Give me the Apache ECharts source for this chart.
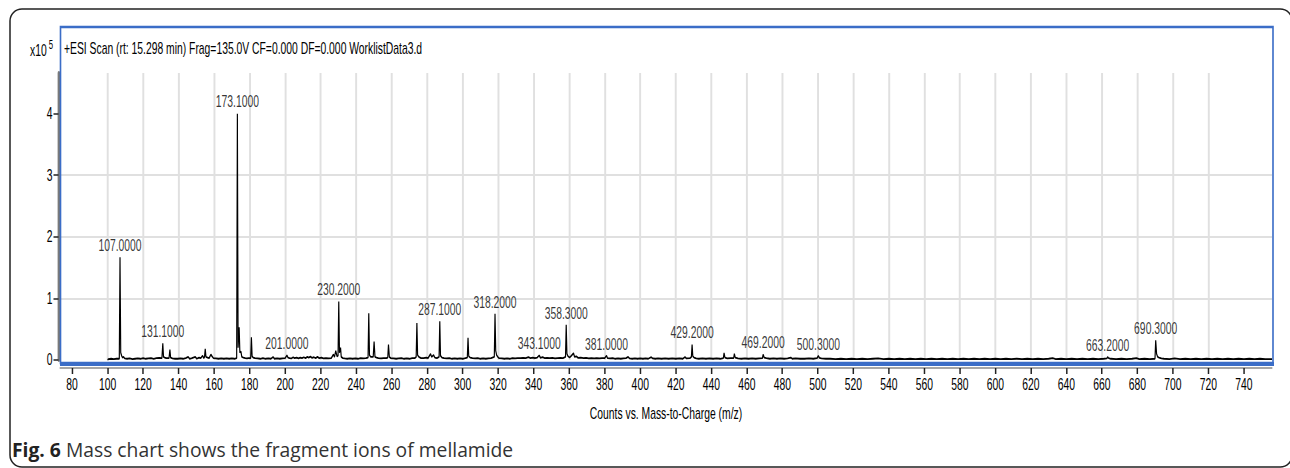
<!DOCTYPE html>
<html>
<head>
<meta charset="utf-8">
<script src="https://cdn.jsdelivr.net/npm/echarts@6/dist/echarts.min.js"></script>
<style>
  html, body { margin: 0; padding: 0; background: #fff; overflow: hidden; }
  #frame { width: 1290px; height: 468px; overflow: hidden; position: relative; }
  /* the instrument export is a horizontally condensed plot, so the chart is
     laid out on a wider canvas and squeezed to the page width */
  #chart { width: 1994px; height: 468px; transform: scaleX(0.64694); transform-origin: 0 0; }
</style>
</head>
<body>
<div id="frame"><div id="chart"></div></div>
<script>
// Profile spectrum, [m/z, counts in units of 10^5], split by m/z region
const profile100to200 = [
  [100, 0.0], [100.5, 0.015], [102, 0.02], [103.5, 0.015], [105, 0.02], [106.6, 0.02],
  [107.0, 1.67], [107.4, 0.12], [107.9, 0.07], [108.4, 0.04], [109, 0.05], [109.6, 0.025],
  [111, 0.02], [112.5, 0.025], [114, 0.015], [115.5, 0.02], [117, 0.025], [118.5, 0.02],
  [120, 0.03], [121.5, 0.02], [123, 0.025], [124.5, 0.03], [126, 0.02], [127.5, 0.03],
  [129, 0.035], [130.6, 0.03], [131.1, 0.27], [131.5, 0.05], [132.2, 0.04], [133, 0.03],
  [134.6, 0.03], [135.1, 0.17], [135.5, 0.04], [136.5, 0.025], [138, 0.02], [139.5, 0.02],
  [141, 0.025], [142.5, 0.02], [144, 0.03], [145.4, 0.05], [146.2, 0.02], [147.5, 0.03],
  [149.4, 0.05], [150.2, 0.02], [151.5, 0.04], [152.5, 0.03], [153.5, 0.07], [154.2, 0.03],
  [154.6, 0.05], [155.0, 0.18], [155.4, 0.05], [156.3, 0.04], [157.2, 0.03], [158.2, 0.09],
  [158.8, 0.06], [159.6, 0.03], [161, 0.025], [162.5, 0.02], [164, 0.025], [165.5, 0.02],
  [167, 0.025], [168.5, 0.02], [170, 0.025], [171.5, 0.02], [172.7, 0.03], [173.1, 4.0],
  [173.5, 0.2], [174.1, 0.53], [174.5, 0.12], [175.1, 0.14], [175.6, 0.05], [176.5, 0.04],
  [177.5, 0.03], [178.5, 0.025], [179.5, 0.03], [180.6, 0.03], [181.0, 0.37], [181.4, 0.06],
  [182, 0.04], [183, 0.03], [184.5, 0.025], [186, 0.02], [187.5, 0.03], [189, 0.02],
  [190.5, 0.025], [192, 0.02], [193.2, 0.05], [194, 0.02], [195.5, 0.025], [197, 0.02],
  [198.5, 0.025], [200, 0.03]
];

const profile200to320 = [
  [201.0, 0.075], [201.6, 0.04], [202.5, 0.03], [203.5, 0.025], [204.5, 0.045], [205.3, 0.03],
  [206.5, 0.04], [207.5, 0.025], [208.5, 0.04], [209.5, 0.03], [210.5, 0.045], [211.5, 0.03],
  [212.5, 0.05], [213.3, 0.04], [214.2, 0.055], [215.2, 0.035], [216.2, 0.045], [217.2, 0.03],
  [218.2, 0.05], [219.2, 0.03], [220.5, 0.04], [221.5, 0.025], [223, 0.03], [224.5, 0.025],
  [226, 0.03], [227.2, 0.09], [227.8, 0.05], [228.5, 0.15], [229.2, 0.06], [229.8, 0.07],
  [230.2, 0.95], [230.6, 0.12], [231.2, 0.2], [231.6, 0.05], [232.5, 0.03], [233.5, 0.025],
  [235, 0.02], [236.5, 0.025], [238, 0.02], [239.5, 0.025], [241, 0.02], [242.5, 0.03],
  [244, 0.025], [245.5, 0.03], [246.7, 0.04], [247.1, 0.76], [247.5, 0.08], [248.2, 0.05],
  [249.6, 0.05], [250.1, 0.3], [250.6, 0.05], [251.5, 0.04], [252.5, 0.03], [254, 0.025],
  [255.5, 0.03], [257, 0.03], [257.8, 0.04], [258.2, 0.25], [258.7, 0.05], [259.5, 0.03],
  [261, 0.025], [262.5, 0.02], [264, 0.025], [265.5, 0.03], [267, 0.02], [268.5, 0.025],
  [270, 0.02], [271.5, 0.03], [273, 0.03], [273.8, 0.05], [274.2, 0.6], [274.6, 0.08],
  [275.3, 0.05], [276.5, 0.03], [278, 0.03], [279.5, 0.04], [280.5, 0.03], [281.9, 0.1],
  [282.5, 0.05], [283.6, 0.08], [284.3, 0.04], [285.5, 0.03], [286.7, 0.05], [287.1, 0.63],
  [287.5, 0.07], [288.3, 0.04], [289.5, 0.03], [291, 0.025], [292.5, 0.03], [294, 0.02],
  [295.5, 0.025], [297, 0.02], [298.5, 0.025], [300, 0.02], [301.5, 0.03], [302.6, 0.04],
  [303.0, 0.36], [303.4, 0.06], [304.2, 0.04], [305.5, 0.03], [307, 0.025], [308.5, 0.03],
  [310, 0.02], [311.5, 0.025], [313, 0.02], [314.5, 0.025], [316, 0.03], [317.8, 0.05],
  [318.2, 0.75], [318.6, 0.15], [319.1, 0.08], [319.8, 0.05]
];

const profile320to500 = [
  [320.5, 0.03], [322, 0.025], [323.5, 0.02], [325, 0.025], [326.5, 0.02], [328, 0.03],
  [329.5, 0.025], [331, 0.03], [332.5, 0.03], [334, 0.035], [335.5, 0.03], [337, 0.045],
  [338.2, 0.03], [339.5, 0.04], [340.7, 0.03], [342, 0.04], [343.1, 0.075], [343.8, 0.035],
  [345, 0.045], [346.2, 0.03], [347.5, 0.035], [349, 0.03], [350.5, 0.035], [352, 0.025],
  [353.5, 0.03], [355, 0.035], [356.5, 0.03], [357.9, 0.05], [358.3, 0.57], [358.7, 0.1],
  [359.3, 0.06], [360.2, 0.04], [361.2, 0.07], [362.4, 0.11], [363.0, 0.05], [364, 0.06],
  [365, 0.035], [366.5, 0.04], [368, 0.03], [369.5, 0.035], [371, 0.025], [372.5, 0.03],
  [374, 0.025], [375.5, 0.03], [377, 0.025], [378.5, 0.03], [380, 0.03], [381.0, 0.07],
  [381.6, 0.03], [383, 0.025], [384.5, 0.03], [386, 0.02], [387.5, 0.025], [389, 0.02],
  [390.5, 0.025], [392, 0.03], [393.2, 0.05], [394, 0.025], [395.5, 0.02], [397, 0.025],
  [398.5, 0.02], [400, 0.025], [401.5, 0.02], [403, 0.025], [404.5, 0.02], [406.2, 0.045],
  [407, 0.025], [408.5, 0.02], [410, 0.025], [412, 0.02], [414, 0.025], [416, 0.02],
  [418, 0.025], [420, 0.02], [422, 0.025], [424, 0.02], [425.2, 0.05], [426, 0.025],
  [428, 0.03], [428.8, 0.05], [429.2, 0.25], [429.6, 0.06], [430.3, 0.04], [431.5, 0.025],
  [433, 0.02], [435, 0.025], [437, 0.02], [439, 0.025], [441, 0.02], [443, 0.025],
  [445, 0.02], [446.8, 0.03], [447.2, 0.115], [447.7, 0.04], [449, 0.025], [451, 0.03],
  [452.6, 0.03], [453.0, 0.1], [453.5, 0.04], [455, 0.025], [457, 0.02], [459, 0.025],
  [461, 0.02], [463, 0.025], [465, 0.02], [467, 0.025], [468.8, 0.03], [469.2, 0.09],
  [469.8, 0.04], [471, 0.03], [473, 0.02], [475, 0.025], [477, 0.02], [479, 0.025],
  [481, 0.02], [483, 0.025], [484.8, 0.04], [485.6, 0.02], [487.5, 0.025], [490, 0.02],
  [492.5, 0.02], [495, 0.025], [497.5, 0.02], [499.6, 0.03]
];

const profile500to756 = [
  [500.3, 0.07], [500.9, 0.035], [502, 0.025], [504.5, 0.02], [507, 0.02], [510, 0.015],
  [513, 0.02], [516, 0.015], [519, 0.02], [522, 0.015], [525, 0.02], [528, 0.015],
  [531, 0.02], [534, 0.025], [537, 0.015], [540, 0.02], [543, 0.015], [546, 0.02],
  [549, 0.015], [552, 0.02], [555, 0.015], [558, 0.02], [561, 0.015], [564, 0.02],
  [567, 0.015], [570, 0.02], [573, 0.015], [576, 0.02], [579, 0.015], [582, 0.02],
  [585, 0.015], [588, 0.02], [591, 0.015], [594, 0.02], [597, 0.015], [600, 0.02],
  [603, 0.015], [606, 0.02], [609, 0.015], [612, 0.02], [615, 0.015], [618, 0.02],
  [621, 0.015], [624, 0.02], [627, 0.015], [630, 0.02], [632.3, 0.03], [634, 0.015],
  [637, 0.02], [640, 0.015], [643, 0.02], [646, 0.015], [649, 0.02], [652, 0.015],
  [655, 0.02], [658, 0.015], [661, 0.02], [662.8, 0.025], [663.2, 0.05], [663.8, 0.03],
  [665, 0.02], [668, 0.015], [671, 0.02], [674, 0.015], [677, 0.02], [679.5, 0.03],
  [681, 0.015], [684, 0.02], [687, 0.015], [689.9, 0.02], [690.3, 0.32], [690.8, 0.1],
  [691.4, 0.05], [692.2, 0.04], [693.5, 0.025], [695, 0.02], [698, 0.015], [701, 0.025],
  [704, 0.015], [707, 0.02], [710, 0.015], [713, 0.02], [716, 0.015], [719, 0.02],
  [722, 0.015], [725, 0.02], [728, 0.015], [731, 0.02], [734, 0.015], [737, 0.02],
  [740, 0.015], [743, 0.02], [746, 0.015], [749, 0.02], [752, 0.015], [755.8, 0.015]
];

// Peaks annotated with their m/z
const labelledPeaks = [107.0, 131.1, 173.1, 201.0, 230.2, 287.1, 318.2, 343.1,
  358.3, 381.0, 429.2, 469.2, 500.3, 663.2, 690.3];

const xTicks = [80, 100, 120, 140, 160, 180, 200, 220, 240, 260, 280, 300, 320, 340,
  360, 380, 400, 420, 440, 460, 480, 500, 520, 540, 560, 580, 600, 620, 640, 660,
  680, 700, 720, 740];
const yTicks = [0, 1, 2, 3, 4];
const xRange = [73.2, 755.8];
const yRange = [0, 4.66];

const scanTitle = '+ESI Scan (rt: 15.298 min) Frag=135.0V CF=0.000 DF=0.000 WorklistData3.d';
const xTitle = 'Counts vs. Mass-to-Charge (m/z)';
const captionBold = 'Fig. 6';
const captionText = ' Mass chart shows the fragment ions of mellamide';

const spectrum = profile100to200.concat(profile200to320, profile320to500, profile500to756);
const peakPoints = labelledPeaks.map(function (m) {
  const p = spectrum.find(function (d) { return Math.abs(d[0] - m) < 1e-6; });
  return [m, p ? p[1] : 0];
});

// horizontal squeeze applied by CSS; page-space x values are divided by it
const K = 1290 / 1994;
const px = function (v) { return v / K; };

const SANS = '"Liberation Sans", Arial, sans-serif';
const CAPTION_FONT = '"Open Sans", "Noto Sans", sans-serif';
const INK = '#000';
const chart = echarts.init(document.getElementById('chart'), null,
  { renderer: 'svg', width: 1994, height: 468 });

chart.setOption({
  animation: false,
  backgroundColor: '#fff',
  grid: { left: px(60), right: px(18), top: 73, bottom: 108, containLabel: false, outerBoundsMode: 'none' },
  xAxis: {
    type: 'value',
    min: xRange[0],
    max: xRange[1],
    offset: 8,
    name: xTitle,
    nameLocation: 'middle',
    nameGap: 38,
    nameTextStyle: { fontFamily: SANS, fontSize: 16, color: INK },
    axisLine: { show: true, onZero: false, lineStyle: { color: '#8a8a8a', width: 1.5 } },
    axisTick: { show: true, length: 6, customValues: xTicks, lineStyle: { color: '#222', width: 2.3 } },
    axisLabel: { customValues: xTicks, margin: 9, fontFamily: SANS, fontSize: 16, color: INK },
    splitLine: { show: true, showMinLine: false, showMaxLine: false, lineStyle: { color: '#e0e0e0', width: 3 } }
  },
  yAxis: {
    type: 'value',
    min: yRange[0],
    max: yRange[1],
    offset: px(1.5),
    axisLine: { show: true, lineStyle: { color: '#7a7a7a', width: 3.9 } },
    axisTick: { show: true, length: px(5), customValues: yTicks, lineStyle: { color: '#222', width: 1.5 } },
    axisLabel: { customValues: yTicks, margin: px(6), fontFamily: SANS, fontSize: 16, color: INK },
    splitLine: { show: true, showMinLine: false, showMaxLine: false, lineStyle: { color: '#e0e0e0', width: 2 } }
  },
  series: [
    {
      type: 'line',
      data: spectrum,
      showSymbol: false,
      symbol: 'none',
      lineStyle: { color: '#000', width: 1.8 },
      z: 3
    },
    {
      type: 'scatter',
      data: peakPoints,
      symbolSize: 1,
      itemStyle: { color: 'rgba(0,0,0,0)' },
      label: {
        show: true,
        position: 'top',
        distance: 3,
        formatter: function (p) { return p.value[0].toFixed(4); },
        fontFamily: SANS,
        fontSize: 16,
        color: INK
      },
      z: 4
    }
  ],
  graphic: [
    {
      type: 'rect',
      z: 1,
      x: 0, y: 0, scaleX: 1 / K,
      shape: { x: 10, y: 9, width: 1282, height: 458, r: 12 },
      style: { fill: null, stroke: '#222', lineWidth: 1.5 }
    },
    {
      type: 'rect',
      z: 10,
      shape: { x: px(60.5), y: 27, width: px(1212.5), height: 336 },
      style: { fill: null, stroke: '#3b6dc7', lineWidth: 2.5 }
    },
    {
      type: 'line',
      z: 10,
      shape: { x1: px(60), y1: 364, x2: px(1274), y2: 364 },
      style: { stroke: '#3b6dc7', lineWidth: 4 }
    },
    {
      type: 'text',
      z: 11,
      x: px(64), y: 49,
      style: { text: scanTitle, fontFamily: SANS, fontSize: 16, fill: INK, verticalAlign: 'middle' }
    },
    {
      type: 'text',
      z: 11,
      x: px(30), y: 51,
      style: {
        text: '{a|x10} {b|5}',
        verticalAlign: 'middle',
        rich: {
          a: { fontFamily: SANS, fontSize: 16, fill: INK },
          b: { fontFamily: SANS, fontSize: 12, fill: INK, padding: [0, 0, 12, 0] }
        }
      }
    },
    {
      type: 'text',
      z: 11,
      x: px(12), y: 450, scaleX: 1 / K,
      style: {
        text: '{b|' + captionBold + '}{r|' + captionText + '}',
        verticalAlign: 'middle',
        rich: {
          b: { fontFamily: CAPTION_FONT, fontWeight: 'bold', fontSize: 19.3, fill: '#222' },
          r: { fontFamily: CAPTION_FONT, fontSize: 19.3, fill: '#333' }
        }
      }
    }
  ]
});
</script>
</body>
</html>
